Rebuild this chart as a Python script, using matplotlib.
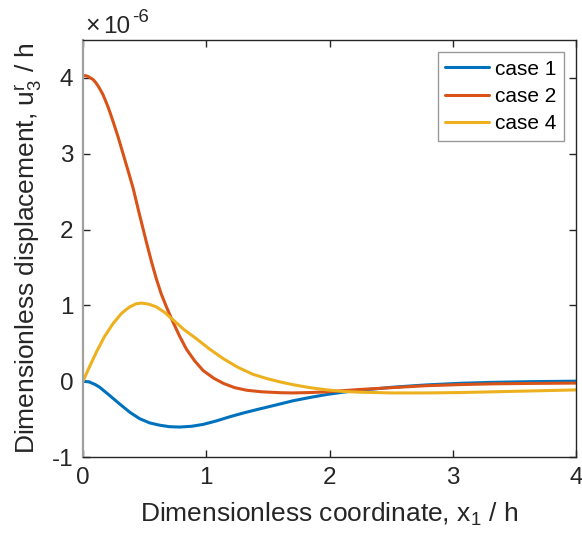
import matplotlib
matplotlib.use("Agg")
import matplotlib.pyplot as plt

plt.rcParams['font.family'] = ['Liberation Sans', 'DejaVu Sans']
plt.rcParams['mathtext.fontset'] = 'custom'
plt.rcParams['mathtext.rm'] = 'Liberation Sans'
plt.rcParams['mathtext.it'] = 'Liberation Sans'
plt.rcParams['mathtext.default'] = 'regular'

# values in units of 1e-6
x_case1 = [0, 0.05, 0.10, 0.135, 0.21, 0.297, 0.38, 0.46, 0.54, 0.62, 0.70, 0.785, 0.88, 0.975,
           1.08, 1.19, 1.30, 1.41, 1.55, 1.70, 1.84, 1.98, 2.11, 2.24, 2.38, 2.51, 2.65, 2.78,
           3.06, 3.33, 3.60, 4.0]
y_case1 = [0, -0.01, -0.045, -0.08, -0.18, -0.30, -0.41, -0.495, -0.55, -0.58, -0.60, -0.605, -0.595, -0.57,
           -0.525, -0.47, -0.42, -0.375, -0.32, -0.26, -0.215, -0.175, -0.145, -0.12, -0.10, -0.08, -0.064, -0.05,
           -0.028, -0.015, -0.007, 0.0]

x_case2 = [0, 0.02, 0.04, 0.06, 0.081, 0.10, 0.12, 0.14, 0.162, 0.18, 0.20, 0.22, 0.243, 0.285, 0.325,
           0.365, 0.406, 0.455, 0.515, 0.555, 0.595, 0.635, 0.677, 0.73, 0.785, 0.84, 0.905, 0.975,
           1.06, 1.14, 1.23, 1.33, 1.45, 1.60, 1.70, 1.84, 1.98, 2.11, 2.24, 2.51, 2.78, 3.06,
           3.33, 3.60, 4.0]
y_case2 = [4.03, 4.03, 4.02, 4.00, 3.98, 3.945, 3.90, 3.845, 3.78, 3.71, 3.63, 3.54, 3.43, 3.22, 3.00,
           2.78, 2.55, 2.22, 1.83, 1.58, 1.35, 1.15, 0.98, 0.78, 0.59, 0.42, 0.27, 0.14,
           0.04, -0.03, -0.085, -0.12, -0.14, -0.152, -0.155, -0.15, -0.14, -0.125, -0.11, -0.085, -0.06, -0.045,
           -0.035, -0.03, -0.025]

x_case4 = [0, 0.05, 0.109, 0.175, 0.244, 0.31, 0.35, 0.38, 0.43, 0.475, 0.535, 0.595, 0.66, 0.73,
           0.82, 0.92, 1.03, 1.14, 1.26, 1.38, 1.49, 1.60, 1.70, 1.84, 1.98, 2.11, 2.24,
           2.51, 2.78, 3.06, 3.33, 3.60, 4.0]
y_case4 = [0, 0.18, 0.385, 0.59, 0.76, 0.89, 0.945, 0.98, 1.02, 1.03, 1.015, 0.98, 0.91, 0.81,
           0.68, 0.56, 0.42, 0.295, 0.18, 0.09, 0.035, -0.01, -0.045, -0.085, -0.115, -0.135, -0.145,
           -0.155, -0.155, -0.15, -0.14, -0.13, -0.115]

labels = ['case 1', 'case 2', 'case 4']
colors = ['#0072BD', '#D95319', '#EDB120']

fig = plt.figure(figsize=(5.82, 5.36), dpi=100)
ax = fig.add_axes([83/582, 1-457/536, (576-83)/582, (457-40)/536])

for xs, ys, lab, c in zip([x_case1, x_case2, x_case4], [y_case1, y_case2, y_case4], labels, colors):
    ax.plot(xs, ys, color=c, lw=2.2, label=lab, solid_capstyle='round', solid_joinstyle='round')

ax.set_xlim(0, 4)
ax.set_ylim(-1, 4.5)
ax.set_xticks([0, 1, 2, 3, 4])
ax.set_yticks([-1, 0, 1, 2, 3, 4])
ax.set_yticklabels(['-1', '0', '1', '2', '3', '4'])

dark = '#262626'
for s in ['top', 'right', 'bottom']:
    ax.spines[s].set_color(dark)
    ax.spines[s].set_linewidth(1.0)
ax.spines['left'].set_color('#a0a0a0')
ax.spines['left'].set_linewidth(1.6)
ax.tick_params(direction='in', length=5, width=1.0, color=dark, labelcolor=dark,
               labelsize=17.5, top=True, right=True, pad=7)

ax.set_xlabel('Dimensionless coordinate, x$_1$ / h', fontsize=19, color=dark, labelpad=9)
ax.set_ylabel('Dimensionless displacement, u$_3^r$ / h', fontsize=19, color=dark, labelpad=5)

# exponent label (MATLAB style)
fig.text(85/582, 1-33/536, '\u00d7', fontsize=18, color=dark, ha='left', va='baseline',
         fontweight='light')
fig.text(103/582, 1-33/536, '10', fontsize=17.5, color=dark, ha='left', va='baseline')
fig.text(132.5/582, 1-22/536, '-6', fontsize=13.5, color=dark, ha='left', va='baseline')

leg = ax.legend(loc='upper right', fontsize=15, frameon=True, fancybox=False,
                edgecolor='#808080', handlelength=2.1, handletextpad=0.3,
                borderaxespad=0.6, labelspacing=0.4, borderpad=0.35)
leg.get_frame().set_linewidth(1.0)

fig.savefig('out.png', dpi=100)
